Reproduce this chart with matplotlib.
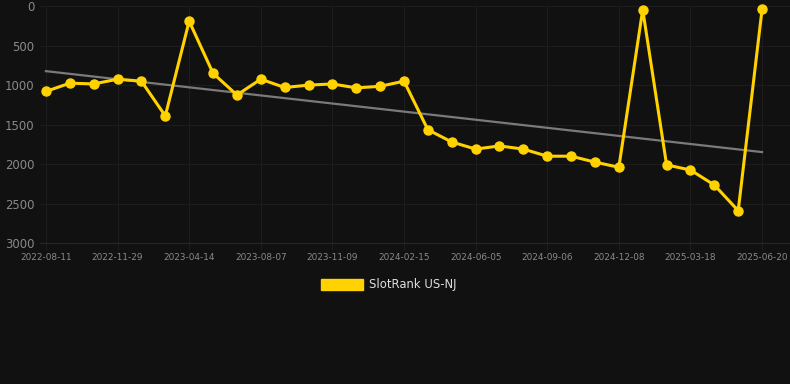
import numpy as np
import matplotlib
matplotlib.use("Agg")
import matplotlib.pyplot as plt

# rank per sample date (lower = better, axis inverted)
ranks = [1080, 975, 985, 925, 950, 1390, 190, 850, 1125, 925,
         1030, 1000, 985, 1035, 1015, 950, 1565, 1720, 1810, 1770,
         1810, 1900, 1900, 1975, 2040, 45, 2010, 2075, 2265, 2590, 40]
tick_labels = ["2022-08-11", "2022-11-29", "2023-04-14", "2023-08-07",
               "2023-11-09", "2024-02-15", "2024-06-05", "2024-09-06",
               "2024-12-08", "2025-03-18", "2025-06-20"]
trend_ends = [823, 1848]   # grey trend line, first and last sample

BG = "#111111"
GOLD = "#FFD200"
GRID = "#1d1d1d"

x = np.arange(len(ranks))

fig = plt.figure(figsize=(7.9, 3.84), dpi=100, facecolor=BG)
ax = fig.add_axes([0.0506, 0.367, 0.9494, 0.617], facecolor=BG)

ax.plot([x[0], x[-1]], trend_ends, color="#7a7a7a", lw=1.6, zorder=2)
ax.plot(x, ranks, color=GOLD, lw=2.2, marker="o", ms=6.5, zorder=3,
        clip_on=False, label="SlotRank US-NJ")

ax.set_ylim(3000, 0)
ax.set_yticks([0, 500, 1000, 1500, 2000, 2500, 3000])
ax.set_xlim(-0.25, 31.17)
ax.set_xticks(x[::3])
ax.set_xticklabels(tick_labels)

ax.grid(True, color=GRID, lw=0.8)
ax.set_axisbelow(True)
for s in ax.spines.values():
    s.set_visible(False)
ax.spines["bottom"].set_visible(True)
ax.spines["bottom"].set_color("#262626")
ax.tick_params(axis="y", length=0, pad=4, labelsize=8.4, labelcolor="#8a8a8a")
ax.tick_params(axis="x", length=5, color=GRID, pad=2, labelsize=6.4,
               labelcolor="#8a8a8a")

leg = fig.legend(handles=[plt.Rectangle((0, 0), 1, 1, color=GOLD)],
                 labels=["SlotRank US-NJ"], loc="center",
                 bbox_to_anchor=(0.492, 0.258), frameon=False,
                 handlelength=3.6, handleheight=1.0, handletextpad=0.5,
                 fontsize=8.4)
for t in leg.get_texts():
    t.set_color("#dddddd")

fig.savefig("out.png", dpi=100, facecolor=BG)
